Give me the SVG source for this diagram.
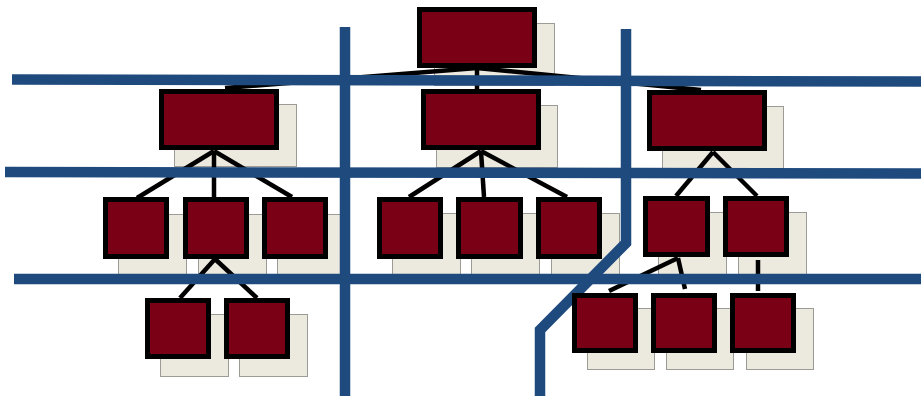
<svg xmlns="http://www.w3.org/2000/svg" width="921" height="396" viewBox="0 0 921 396">
<defs>
<style>
.sh{fill:#ECE9DF;stroke:#9C9B96;stroke-width:1}
.bx{fill:#7A0016;stroke:#000;stroke-width:5}
.cn{stroke:#000;stroke-width:4.5;fill:none;stroke-linecap:butt}
.bl{stroke:#1F4A7E;stroke-width:10.5;fill:none;stroke-linecap:butt;stroke-linejoin:miter}
</style>
</defs>
<rect width="921" height="396" fill="#fff"/>
<g id="shadows">
<rect class="sh" x="434.5" y="23.5" width="120" height="62"/>
<rect class="sh" x="174.5" y="104.5" width="122" height="62"/>
<rect class="sh" x="436.5" y="105.5" width="121" height="62"/>
<rect class="sh" x="662.5" y="106.5" width="121" height="62"/>
<rect class="sh" x="118.5" y="214.5" width="68" height="62"/>
<rect class="sh" x="198.5" y="214.5" width="68" height="62"/>
<rect class="sh" x="277.5" y="214.5" width="68" height="62"/>
<rect class="sh" x="392.5" y="213.5" width="68" height="62"/>
<rect class="sh" x="471.5" y="213.5" width="68" height="62"/>
<rect class="sh" x="551.5" y="213.5" width="68" height="62"/>
<rect class="sh" x="658.5" y="212.5" width="68" height="62"/>
<rect class="sh" x="738.5" y="212.5" width="68" height="62"/>
<rect class="sh" x="160.5" y="314.5" width="68" height="62"/>
<rect class="sh" x="239.5" y="314.5" width="68" height="62"/>
<rect class="sh" x="587.5" y="308.5" width="67" height="61"/>
<rect class="sh" x="666.5" y="308.5" width="67" height="61"/>
<rect class="sh" x="746.5" y="308.5" width="67" height="61"/>
</g>
<g id="connectors">
<line class="cn" x1="477" y1="68" x2="225" y2="88"/>
<line class="cn" x1="477" y1="68" x2="477" y2="90"/>
<line class="cn" x1="477" y1="68" x2="701" y2="90"/>
<line class="cn" x1="214" y1="151" x2="137" y2="198"/>
<line class="cn" x1="214" y1="151" x2="214" y2="198"/>
<line class="cn" x1="214" y1="151" x2="292" y2="197"/>
<line class="cn" x1="481" y1="151" x2="409" y2="197"/>
<line class="cn" x1="481" y1="151" x2="484" y2="197"/>
<line class="cn" x1="481" y1="151" x2="567" y2="197"/>
<line class="cn" x1="713" y1="152" x2="676" y2="196"/>
<line class="cn" x1="713" y1="152" x2="757" y2="196"/>
<line class="cn" x1="215" y1="259" x2="180" y2="298"/>
<line class="cn" x1="215" y1="259" x2="257" y2="298"/>
<line class="cn" x1="678" y1="258" x2="609" y2="291"/>
<line class="cn" x1="678" y1="258" x2="685" y2="289"/>
<line class="cn" x1="758" y1="260" x2="758" y2="291"/>
</g>
<g id="bands">
<line class="bl" x1="12" y1="79.5" x2="921" y2="81.5"/>
<line class="bl" x1="5" y1="172" x2="921" y2="173.5"/>
<line class="bl" x1="14" y1="279" x2="921" y2="279"/>
<line class="bl" x1="345" y1="27" x2="345" y2="396"/>
<path class="bl" d="M626,29 L626,243 L540,330 L540,396"/>
</g>
<g id="n-top"><rect class="bx" x="419.5" y="9.5" width="115" height="56"/></g>
<g id="n-l2a"><rect class="bx" x="161.5" y="91.5" width="115" height="56"/></g>
<g id="n-l2b"><rect class="bx" x="423.5" y="91.5" width="115" height="56"/></g>
<g id="n-l2c"><rect class="bx" x="649.5" y="92.5" width="115" height="56"/></g>
<g id="n-l3a1"><rect class="bx" x="105.5" y="199.5" width="61" height="57"/></g>
<g id="n-l3a2"><rect class="bx" x="185.5" y="199.5" width="61" height="57"/></g>
<g id="n-l3a3"><rect class="bx" x="264.5" y="199.5" width="61" height="57"/></g>
<g id="n-l3b1"><rect class="bx" x="379.5" y="199.5" width="61" height="57"/></g>
<g id="n-l3b2"><rect class="bx" x="458.5" y="199.5" width="62" height="57"/></g>
<g id="n-l3b3"><rect class="bx" x="538.5" y="199.5" width="61" height="57"/></g>
<g id="n-l3c1"><rect class="bx" x="645.5" y="198.5" width="62" height="56"/></g>
<g id="n-l3c2"><rect class="bx" x="725.5" y="198.5" width="61" height="56"/></g>
<g id="n-l4a1"><rect class="bx" x="147.5" y="300.5" width="61" height="56"/></g>
<g id="n-l4a2"><rect class="bx" x="226.5" y="300.5" width="61" height="56"/></g>
<g id="n-l4c1"><rect class="bx" x="574.5" y="295.5" width="61" height="55"/></g>
<g id="n-l4c2"><rect class="bx" x="653.5" y="295.5" width="61" height="55"/></g>
<g id="n-l4c3"><rect class="bx" x="732.5" y="295.5" width="61" height="55"/></g>
</svg>
